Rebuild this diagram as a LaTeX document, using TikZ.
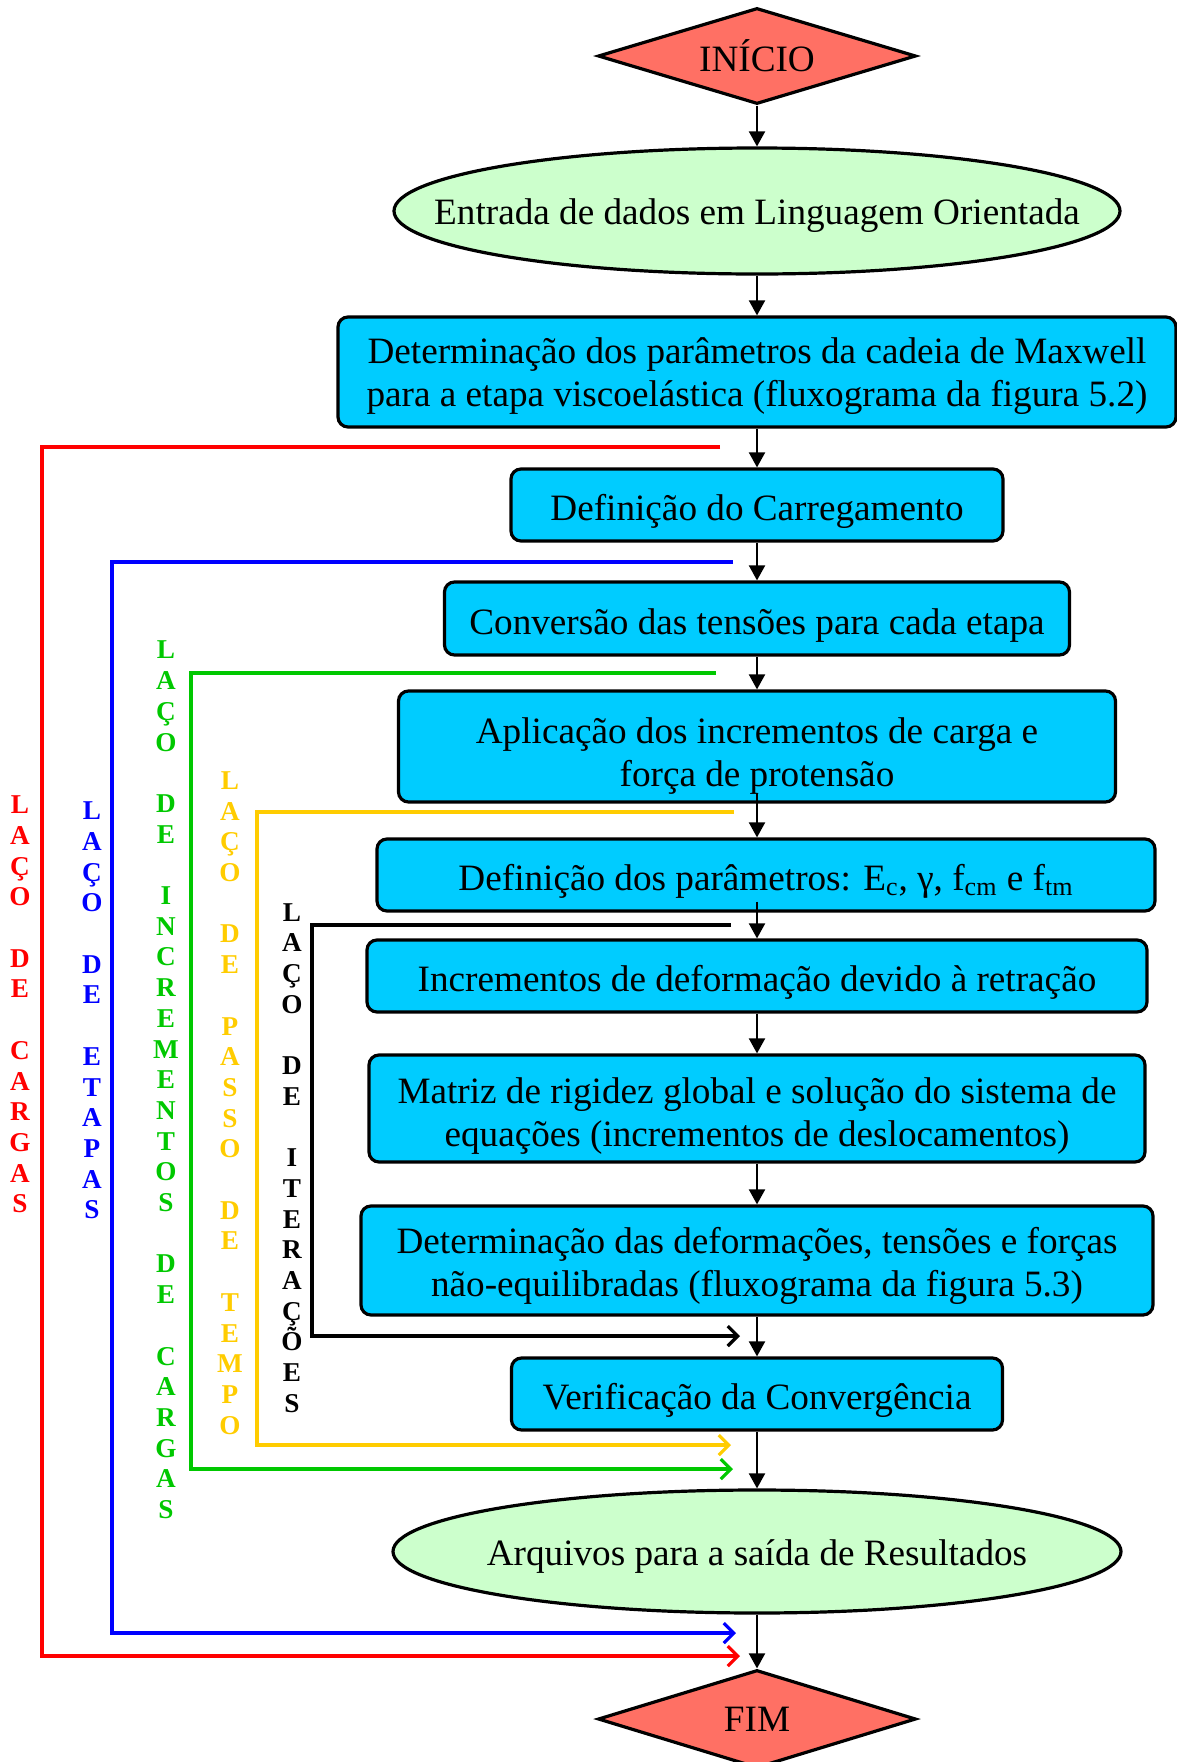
\documentclass[tikz,border=0pt]{standalone}
\usepackage{fontspec}
\setmainfont{Liberation Serif}
\usetikzlibrary{arrows.meta, positioning, shapes.geometric}

\definecolor{salmao}{RGB}{255,112,100}
\definecolor{verdeclaro}{RGB}{204,255,204}
\definecolor{ciano}{RGB}{0,204,255}
\definecolor{verdelaco}{RGB}{0,200,0}
\definecolor{amarelolaco}{RGB}{255,204,0}

\newcommand{\desce}[1]{\rule{0pt}{#1}}

\tikzset{
  terminal/.style={diamond, draw, line width=1.6pt, fill=salmao, shape aspect=3.3, inner sep=0pt,
    minimum width=159pt, minimum height=48pt, font=\fontsize{18.6}{21.5}\selectfont},
  entrada/.style={ellipse, draw, line width=1.6pt, fill=verdeclaro, inner xsep=-45pt, inner ysep=0pt,
    font=\fontsize{18.6}{21.5}\selectfont, execute at begin node={\desce{18pt}}},
  processo/.style={draw, line width=1.6pt, rounded corners=5pt, fill=ciano, inner sep=0pt, align=center,
    font=\fontsize{18.6}{21.5}\selectfont, execute at begin node={\desce{19.5pt}}},
  fluxo/.style={line width=1pt, -{Triangle[length=7.5pt,width=8pt]}},
  laco/.style={line width=1.6pt, -{Straight Barb[length=5pt,width=10pt]}},
  rotulo/.style={align=center, inner sep=0pt, font=\fontsize{13.6}{15.35}\selectfont\bfseries}
}

\begin{document}
\begin{tikzpicture}[x=0.5pt, y=-0.5pt]
\useasboundingbox (0,0) rectangle (1177,1762);

% fluxograma principal
\node[terminal] (inicio) at (757,56) {INÍCIO};
\node[entrada, minimum width=363pt, minimum height=63pt] (dados) at (757,211) {Entrada de dados em Linguagem Orientada};
\node[processo, minimum width=419pt, minimum height=55pt] (maxwell) at (757,372)
  {\desce{17.5pt}Determinação dos parâmetros da cadeia de Maxwell\\para a etapa viscoelástica (fluxograma da figura 5.2)};
\node[processo, minimum width=246pt, minimum height=36pt] (carregamento) at (757,505) {Definição do Carregamento};
\node[processo, minimum width=312.5pt, minimum height=36.5pt] (conversao) at (757,618.5) {Conversão das tensões para cada etapa};
\node[processo, minimum width=358.5pt, minimum height=55.5pt] (aplicacao) at (757,746.5)
  {\desce{22.5pt}Aplicação dos incrementos de carga e\\força de protensão};
\node[processo, minimum width=389pt, minimum height=36pt] (parametros) at (766,875)
  {Definição dos parâmetros: E\textsubscript{c}, γ, f\textsubscript{cm} e f\textsubscript{tm}};
\node[processo, minimum width=390pt, minimum height=36pt] (retracao) at (757,976) {Incrementos de deformação devido à retração};
\node[processo, minimum width=388pt, minimum height=53.5pt] (rigidez) at (757,1108.5)
  {\desce{20.5pt}Matriz de rigidez global e solução do sistema de\\equações (incrementos de deslocamentos)};
\node[processo, minimum width=396pt, minimum height=54.5pt] (deformacoes) at (757,1260.5)
  {\desce{18.5pt}Determinação das deformações, tensões e forças\\não-equilibradas (fluxograma da figura 5.3)};
\node[processo, minimum width=245.5pt, minimum height=36pt] (convergencia) at (757,1394) {Verificação da Convergência};
\node[entrada, minimum width=364pt, minimum height=61.5pt] (saida) at (757,1551.5) {Arquivos para a saída de Resultados};
\node[terminal, minimum height=49pt] (fim) at (757,1719) {FIM};

\draw[fluxo] (inicio) -- (dados);
\draw[fluxo] (dados) -- (maxwell);
\draw[fluxo] (maxwell) -- (carregamento);
\draw[fluxo] (carregamento) -- (conversao);
\draw[fluxo] (conversao) -- (aplicacao);
\draw[fluxo] ([yshift=5.5pt]aplicacao.south) -- (aplicacao |- parametros.north);
\draw[fluxo] ([yshift=5.5pt]retracao |- parametros.south) -- (retracao);
\draw[fluxo] (retracao) -- (rigidez);
\draw[fluxo] (rigidez) -- (deformacoes);
\draw[fluxo] (deformacoes) -- (convergencia);
\draw[fluxo] (convergencia) -- (saida);
\draw[fluxo] (saida) -- (fim);

% lacos
\coordinate (cargasIni) at (720,447);   \coordinate (cargasFim) at (740,1656);
\coordinate (etapasIni) at (733,562);   \coordinate (etapasFim) at (736,1633);
\coordinate (incrIni) at (716,673);     \coordinate (incrFim) at (733,1469);
\coordinate (passoIni) at (734,812);    \coordinate (passoFim) at (731,1445);
\coordinate (iterIni) at (731,925);     \coordinate (iterFim) at (740,1336);

\draw[laco, red] (cargasIni) -- (42,447) |- (cargasFim);
\draw[laco, blue] (etapasIni) -- (112,562) |- (etapasFim);
\draw[laco, verdelaco] (incrIni) -- (191,673) |- (incrFim);
\draw[laco, amarelolaco] (passoIni) -- (257,812) |- (passoFim);
\draw[laco, black] (iterIni) -- (312,925) |- (iterFim);

\node[rotulo, red] (rotcargas) at (20,1004.5)
  {L\\A\\Ç\\O\\[15.35pt]D\\E\\[15.35pt]C\\A\\R\\G\\A\\S};
\node[rotulo, blue] (rotetapas) at (92,1010.5)
  {L\\A\\Ç\\O\\[15.35pt]D\\E\\[15.35pt]E\\T\\A\\P\\A\\S};
\node[rotulo, verdelaco] (rotincr) at (166,1080)
  {L\\A\\Ç\\O\\[15.35pt]D\\E\\[15.35pt]I\\N\\C\\R\\E\\M\\E\\N\\T\\O\\S\\[15.35pt]D\\E\\[15.35pt]C\\A\\R\\G\\A\\S};
\node[rotulo, amarelolaco] (rotpasso) at (230,1103)
  {L\\A\\Ç\\O\\[15.35pt]D\\E\\[15.35pt]P\\A\\S\\S\\O\\[15.35pt]D\\E\\[15.35pt]T\\E\\M\\P\\O};
\node[rotulo] (rotiter) at (292,1158)
  {L\\A\\Ç\\O\\[15.35pt]D\\E\\[15.35pt]I\\T\\E\\R\\A\\Ç\\Õ\\E\\S};
\end{tikzpicture}
\end{document}
